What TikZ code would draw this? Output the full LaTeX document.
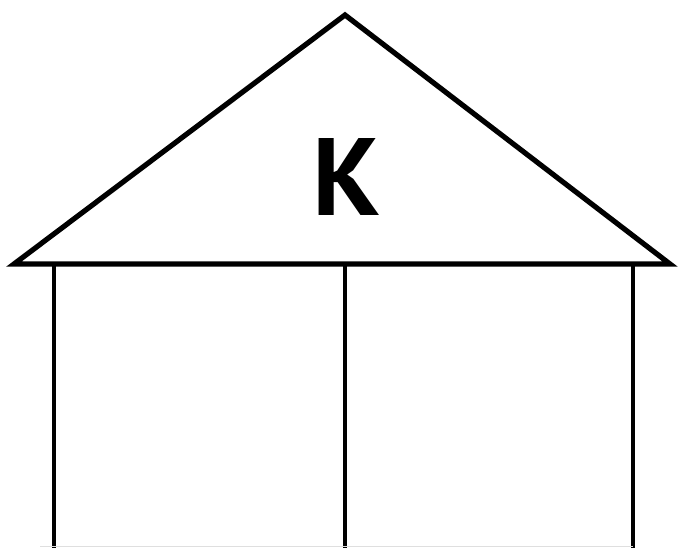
\documentclass[tikz,border=0pt]{standalone}
\usepackage{fontspec}
\setmainfont{PT Sans}
\begin{document}
\begin{tikzpicture}[x=1pt,y=-1pt,
  roof/.style={line width=5.2pt,line join=miter},
  wall/.style={line width=3.6pt},
  letter/.style={font=\fontsize{110}{110}\selectfont\bfseries,inner sep=0pt}]
\useasboundingbox (0,0) rectangle (678,548);
\coordinate (L) at (14,264);
\coordinate (A) at (345,15);
\coordinate (R) at (670,264);
\draw[roof] (L) -- (A) -- (R) -- cycle;
\draw[wall] (54,264) -- (54,548);
\draw[wall] (345,264) -- (345,548);
\draw[wall] (633,264) -- (633,548);
\draw[gray!25,line width=1pt] (40,546) -- (633,546);
\node[letter,anchor=base] (k) at (347,216) {К};
\end{tikzpicture}
\end{document}
